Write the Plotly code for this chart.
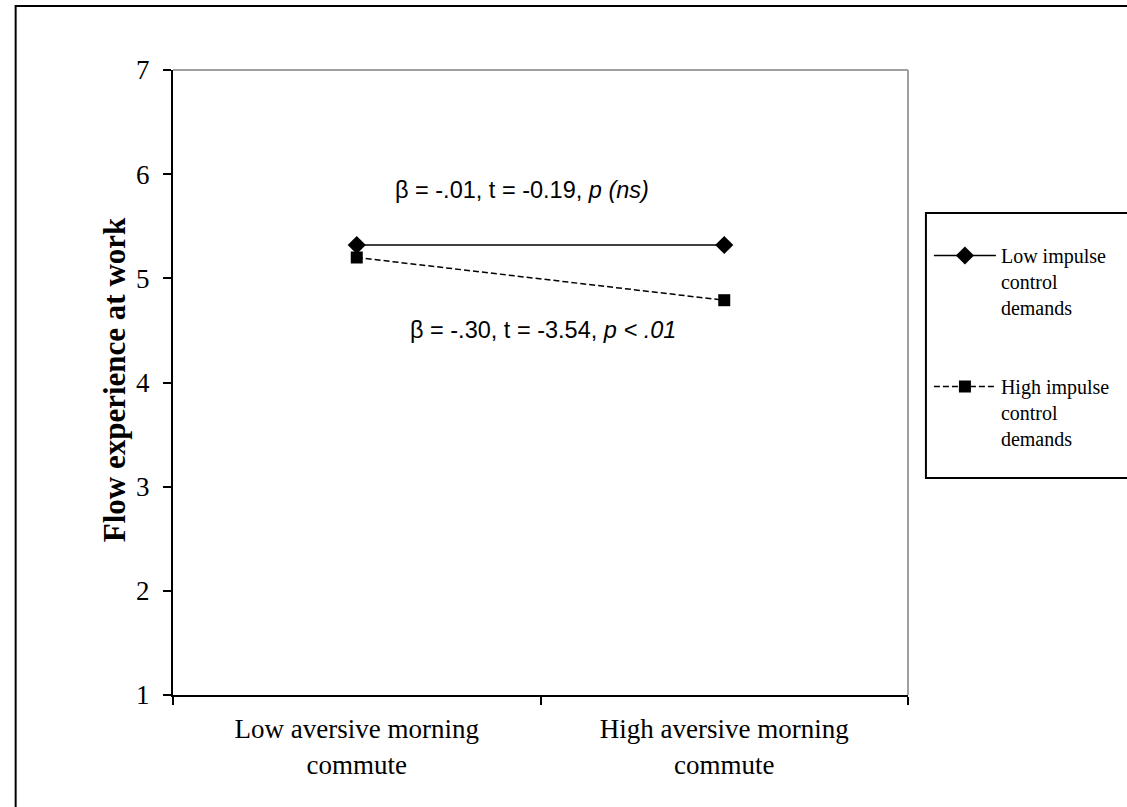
import plotly.graph_objects as go

categories = ["Low aversive morning<br>commute", "High aversive morning<br>commute"]
low_impulse = [5.32, 5.32]
high_impulse = [5.20, 4.79]
series_names = ["Low impulse<br>control<br>demands", "High impulse<br>control<br>demands"]
y_ticks = [1, 2, 3, 4, 5, 6, 7]
y_title = "<b>Flow experience at work</b>"
annot_low = "β = -.01, t = -0.19, <i>p (ns)</i>"
annot_high = "β = -.30, t = -3.54, <i>p < .01</i>"

serif = "Liberation Serif, Times New Roman, serif"
sans = "Liberation Sans, Arial, sans-serif"

fig = go.Figure()
fig.add_trace(go.Scatter(
    x=categories, y=low_impulse, name=series_names[0], mode="lines+markers",
    line=dict(color="black", width=1.5),
    marker=dict(symbol="diamond", size=14, color="black"),
    legendgroup="a",
))
fig.add_trace(go.Scatter(
    x=categories, y=high_impulse, name=series_names[1], mode="lines+markers",
    line=dict(color="black", width=1.5, dash="6px,3px"),
    marker=dict(symbol="square", size=12, color="black"),
    legendgroup="b",
))

L, R, T, B = 173, 911, 70, 695
W, H = 1127, 807
pw, ph = R - L, B - T

def px_x(x):
    return (x - L) / pw

def px_y(y):
    return (B - y) / ph

fig.update_layout(
    width=W, height=H,
    margin=dict(l=L, r=W - R, t=T, b=H - B, pad=0),
    paper_bgcolor="white", plot_bgcolor="white",
    showlegend=True,
    legend=dict(
        x=px_x(932), y=px_y(236), xanchor="left", yanchor="top",
        borderwidth=0, bgcolor="rgba(0,0,0,0)",
        font=dict(family=serif, size=20, color="black"),
        valign="top", tracegroupgap=50, itemwidth=62,
    ),
    xaxis=dict(
        type="category", tickson="boundaries", range=[-0.5, 1.5],
        showline=True, linecolor="black", linewidth=2,
        ticks="outside", ticklen=8, tickwidth=2, tickcolor="black",
        showgrid=False, zeroline=False, ticklabelstandoff=9,
        tickfont=dict(family=serif, size=27, color="black"),
    ),
    yaxis=dict(
        range=[1, 7], tickvals=y_ticks,
        showline=True, linecolor="black", linewidth=2,
        ticks="outside", ticklen=8, tickwidth=2, tickcolor="black",
        showgrid=False, zeroline=False, ticklabelstandoff=8,
        tickfont=dict(family=serif, size=27, color="black"),
    ),
    shapes=[
        dict(type="line", xref="paper", yref="paper", x0=0, x1=1, y0=1, y1=1,
             line=dict(color="#a0a0a0", width=2)),
        dict(type="line", xref="paper", yref="paper", x0=1, x1=1, y0=0, y1=1,
             line=dict(color="#a0a0a0", width=2)),
        dict(type="rect", xref="paper", yref="paper",
             x0=px_x(15), y0=px_y(900), x1=px_x(1300), y1=px_y(6),
             line=dict(color="black", width=2), layer="below"),
        dict(type="rect", xref="paper", yref="paper",
             x0=px_x(929), y0=px_y(478), x1=px_x(1300), y1=px_y(213),
             line=dict(color="black", width=2), fillcolor="white", layer="below"),
    ],
    annotations=[
        dict(text=y_title, xref="paper", yref="paper", x=px_x(114), y=px_y(380),
             textangle=-90, xanchor="center", yanchor="middle", showarrow=False,
             font=dict(family=serif, size=31, color="black")),
        dict(text=annot_low, xref="paper", yref="y", x=px_x(523), y=5.85,
             showarrow=False, font=dict(family=sans, size=23.5, color="black")),
        dict(text=annot_high, xref="paper", yref="y", x=px_x(545), y=4.5,
             showarrow=False, font=dict(family=sans, size=23.5, color="black")),
    ],
)

fig.write_html(
    "out.html",
    config={"displayModeBar": False},
    post_script="document.body.style.margin='0';document.body.style.overflow='hidden';",
)
